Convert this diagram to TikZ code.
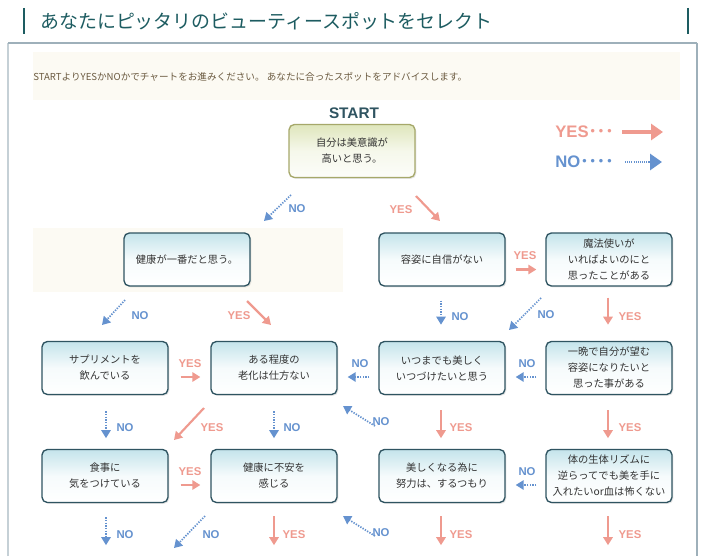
\documentclass[tikz,border=0pt]{standalone}
\usepackage{fontspec}
\setmainfont{Noto Sans CJK JP}
\newfontfamily\lat{Liberation Sans}
\newfontfamily\jpdots{Noto Sans CJK JP}
\usetikzlibrary{arrows.meta,shadows,calc}
\definecolor{titleteal}{HTML}{1D5C61}
\definecolor{yescol}{HTML}{EF9A8F}
\definecolor{nocol}{HTML}{6592CF}
\definecolor{boxline}{HTML}{2F5461}
\definecolor{boxtop}{HTML}{C4E4EB}
\definecolor{startline}{HTML}{A6A86A}
\definecolor{starttop}{HTML}{DFE6BC}
\definecolor{panelline}{HTML}{9EB0BA}
\definecolor{cream}{HTML}{FCFAF3}
\definecolor{desccol}{HTML}{6B5A40}
\definecolor{boxtext}{HTML}{333333}
\begin{document}
\begin{tikzpicture}[x=0.75pt,y=-0.75pt,
  qbox/.style={draw=boxline, line width=1pt, rounded corners=4pt,
    top color=boxtop, bottom color=white, middle color=white!85!boxtop,
    minimum width=94.5pt, minimum height=39.75pt, align=center,
    font=\fontsize{7.7pt}{12pt}\selectfont, text=boxtext,
    drop shadow={shadow xshift=1pt, shadow yshift=-1pt, opacity=0.2}},
  startbox/.style={qbox, draw=startline, top color=starttop, bottom color=white!92!starttop, middle color=white!70!starttop},
  yesarr/.style={draw=yescol, line width=1.6pt, -{Triangle[length=6pt,width=7pt]}},
  noarr/.style={draw=nocol, line width=1.3pt, dash pattern=on 1pt off 1pt, -{Triangle[length=6pt,width=7pt]}},
  yeslab/.style={text=yescol, font=\lat\bfseries\fontsize{8.5pt}{10pt}\selectfont, inner sep=0pt},
  nolab/.style={text=nocol, font=\lat\bfseries\fontsize{8.5pt}{10pt}\selectfont, inner sep=0pt}]
\useasboundingbox (0,0) rectangle (716,556);
\fill[white] (0,0) rectangle (716,556);
% title
\draw[titleteal, line width=0.8pt] (24,8) -- (24,34);
\draw[titleteal, line width=0.8pt] (688,8) -- (688,34);
\node[anchor=west, text=titleteal, font=\fontsize{14.2pt}{16pt}\selectfont, inner sep=0pt] (title) at (40,21) {あなたにピッタリのビューティースポットをセレクト};
% panel
\draw[panelline!60, line width=0.8pt] (8,556) -- (8,43);
\draw[panelline, line width=0.8pt] (8,43) -- (697,43);
\draw[panelline, line width=1.6pt] (697,43) -- (697,556);
\fill[cream] (33,52) rectangle (680,100);
\node[anchor=west, text=desccol, font=\fontsize{7.2pt}{9pt}\selectfont, inner sep=0pt] (desc) at (33,77) {STARTよりYESかNOかでチャートをお進みください。\ あなたに合ったスポットをアドバイスします。};
\fill[cream] (33,228) rectangle (343,292);
% START
\node[text=boxline, font=\lat\bfseries\fontsize{11.5pt}{13pt}\selectfont] (starttitle) at (354,113) {START};
\node[startbox] (start) at (352,151) {自分は美意識が\\高いと思う。};
% legend
\node[anchor=west, text=yescol, font=\lat\bfseries\fontsize{12.5pt}{14pt}\selectfont, inner sep=0pt] (legyes) at (555,132) {YES{\jpdots\bfseries ･･･}};
\node[anchor=west, text=nocol, font=\lat\bfseries\fontsize{12.5pt}{14pt}\selectfont, inner sep=0pt] (legno) at (555,162) {NO{\jpdots\bfseries ････}};
\coordinate (ly1) at (622,132); \coordinate (ly2) at (663,132);
\coordinate (ln1) at (625,162); \coordinate (ln2) at (662,162);
\draw[draw=yescol, line width=3pt, -{Triangle[length=9pt,width=12pt]}] (ly1) -- (ly2);
\draw[draw=nocol, line width=2.2pt, dash pattern=on 0.8pt off 0.8pt, -{Triangle[length=9pt,width=12pt]}] (ln1) -- (ln2);
% boxes
\node[qbox] (health) at (187,259.5) {健康が一番だと思う。};
\node[qbox] (yoshi) at (442,259.5) {容姿に自信がない};
\node[qbox] (mahou) at (609,259.5) {魔法使いが\\いればよいのにと\\思ったことがある};
\node[qbox] (supp) at (105,368) {サプリメントを\\飲んでいる};
\node[qbox] (aru) at (274,368) {ある程度の\\老化は仕方ない};
\node[qbox] (itsu) at (442,368) {いつまでも美しく\\いつづけたいと思う};
\node[qbox] (ichiban) at (609,368) {一晩で自分が望む\\容姿になりたいと\\思った事がある};
\node[qbox] (shoku) at (105,476) {食事に\\気をつけている};
\node[qbox] (kenko) at (274,476) {健康に不安を\\感じる};
\node[qbox] (utsuku) at (442,476) {美しくなる為に\\努力は、するつもり};
\node[qbox] (karada) at (609,476) {体の生体リズムに\\逆らってでも美を手に\\入れたいor血は怖くない};
% start arrows
\draw[noarr] (291,195) -- (264,221);
\node[nolab] (n0) at (297,209) {NO};
\draw[yesarr] (416,196) -- (440,221);
\node[yeslab] (y0) at (401,210) {YES};
% row1 horizontal
\draw[yesarr] ($(yoshi.east)+(10,10)$) -- ($(mahou.west)+(-9,10)$);
\node[yeslab] (y1) at (525,256) {YES};
% row2 arrows
\draw[noarr] (125,300) -- (102,325);
\node[nolab] (n1) at (140,316) {NO};
\draw[yesarr] (247,301) -- (271,325);
\node[yeslab] (y2) at (239,316) {YES};
\draw[noarr] ($(yoshi.south)+(-1,14)$) -- ($(yoshi.south)+(-1,38)$);
\node[nolab] (n2) at (460,317) {NO};
\draw[noarr] (541,298) -- (509,330);
\node[nolab] (n3) at (546,315) {NO};
\draw[yesarr] ($(mahou.south)+(-1,11)$) -- ($(mahou.south)+(-1,38)$);
\node[yeslab] (y3) at (630,317) {YES};
% row3 horizontal
\draw[yesarr] ($(supp.east)+(12,9)$) -- ($(aru.west)+(-10,9)$);
\node[yeslab] (y4) at (190,364) {YES};
\draw[noarr] ($(itsu.west)+(-9,9)$) -- ($(aru.east)+(10,9)$);
\node[nolab] (n4) at (360,364) {NO};
\draw[noarr] ($(ichiban.west)+(-9,9)$) -- ($(itsu.east)+(10,9)$);
\node[nolab] (n5) at (527,364) {NO};
% row4 arrows
\draw[noarr] ($(supp.south)+(1,16)$) -- ($(supp.south)+(1,43)$);
\node[nolab] (n6) at (125,428) {NO};
\draw[yesarr] (204,408) -- (174,440);
\node[yeslab] (y5) at (212,428) {YES};
\draw[noarr] ($(aru.south)+(0,16)$) -- ($(aru.south)+(0,43)$);
\node[nolab] (n7) at (292,428) {NO};
\draw[noarr] (375,426) -- (343,406);
\node[nolab] (n8) at (381,422) {NO};
\draw[yesarr] ($(itsu.south)+(-1,15)$) -- ($(itsu.south)+(-1,43)$);
\node[yeslab] (y6) at (461,428) {YES};
\draw[yesarr] ($(ichiban.south)+(-1,15)$) -- ($(ichiban.south)+(-1,43)$);
\node[yeslab] (y7) at (630,428) {YES};
% row5 horizontal
\draw[yesarr] ($(shoku.east)+(12,9)$) -- ($(kenko.west)+(-10,9)$);
\node[yeslab] (y8) at (190,472) {YES};
\draw[noarr] ($(karada.west)+(-9,9)$) -- ($(utsuku.east)+(10,9)$);
\node[nolab] (n9) at (527,472) {NO};
% row6 arrows
\draw[noarr] ($(shoku.south)+(1,14)$) -- ($(shoku.south)+(1,42)$);
\node[nolab] (n10) at (125,535) {NO};
\draw[noarr] (205,516) -- (174,548);
\node[nolab] (n11) at (211,535) {NO};
\draw[yesarr] ($(kenko.south)+(0,13)$) -- ($(kenko.south)+(0,42)$);
\node[yeslab] (y9) at (294,535) {YES};
\draw[noarr] (375,536) -- (343,516);
\node[nolab] (n12) at (381,533) {NO};
\draw[yesarr] ($(utsuku.south)+(-1,13)$) -- ($(utsuku.south)+(-1,42)$);
\node[yeslab] (y10) at (461,535) {YES};
\draw[yesarr] ($(karada.south)+(-1,13)$) -- ($(karada.south)+(-1,42)$);
\node[yeslab] (y11) at (630,535) {YES};
\end{tikzpicture}
\end{document}
